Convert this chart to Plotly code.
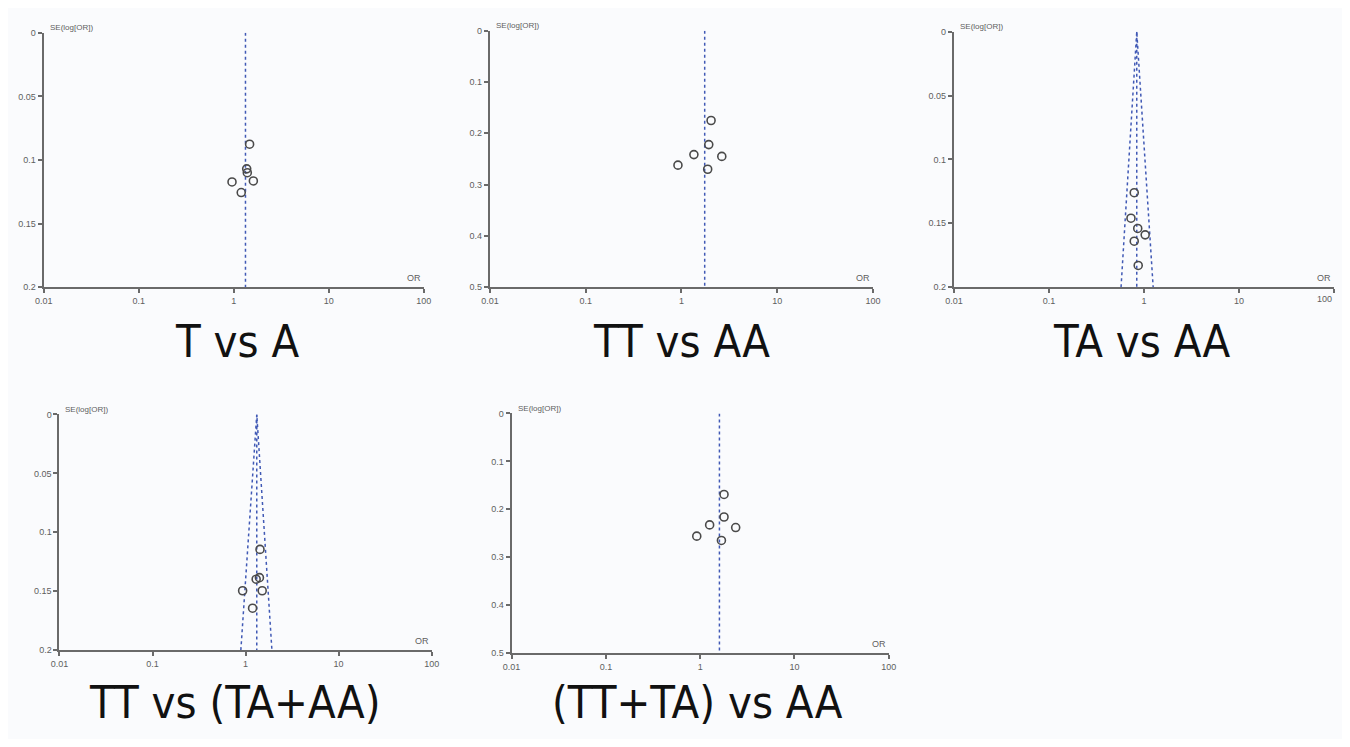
import plotly.graph_objects as go

# ---------------- data ----------------
titles = ["T vs A", "TT vs AA", "TA vs AA", "TT vs (TA+AA)", "(TT+TA) vs AA"]

or_1 = [1.47, 1.37, 1.39, 0.96, 1.61, 1.20]
se_1 = [0.0876, 0.107, 0.110, 0.1173, 0.1165, 0.1256]

or_2 = [2.04, 1.93, 1.35, 2.64, 0.92, 1.88]
se_2 = [0.175, 0.222, 0.2415, 0.245, 0.262, 0.270]

or_3 = [0.79, 0.73, 0.86, 1.03, 0.79, 0.87]
se_3 = [0.126, 0.146, 0.154, 0.159, 0.164, 0.183]

or_4 = [1.43, 1.30, 1.41, 0.93, 1.51, 1.19]
se_4 = [0.1145, 0.1398, 0.1385, 0.1496, 0.1496, 0.1644]

or_5 = [1.79, 1.79, 1.26, 2.38, 0.92, 1.68]
se_5 = [0.169, 0.216, 0.2325, 0.238, 0.256, 0.265]

pooled_or = [1.33, 1.75, 0.84, 1.32, 1.60]
se_max = [0.2, 0.5, 0.2, 0.2, 0.5]
# pseudo-95% CI funnel limits at the bottom of the plot (None = not drawn)
funnel_low = [None, None, 0.574, 0.89, None]
funnel_high = [None, None, 1.25, 1.92, None]

x_tickvals = [0.01, 0.1, 1, 10, 100]
x_ticktext = ["0.01", "0.1", "1", "10", "100"]
y_ticks_02 = [0, 0.05, 0.1, 0.15, 0.2]
y_tick_text_02 = ["0", "0.05", "0.1", "0.15", "0.2"]
y_ticks_05 = [0, 0.1, 0.2, 0.3, 0.4, 0.5]
y_tick_text_05 = ["0", "0.1", "0.2", "0.3", "0.4", "0.5"]

# page is 1350x747; the body keeps its default 8px margin around the figure
PAGE_MARGIN = 8
W, H = 1350 - 2 * PAGE_MARGIN, 747 - 2 * PAGE_MARGIN
# (left, right, top, bottom) of each panel in page pixels
panel_px = [
    (35, 420, 28, 286),
    (487, 875, 26, 286),
    (957, 1342, 27, 286),
    (51, 428, 415, 654),
    (509, 891, 414, 657),
]
label_pos = [(231, 341), (681, 341), (1148, 341), (228, 707), (697, 707)]


def fx(px):
    return min(1.0, max(0.0, (px - PAGE_MARGIN) / W))


def fy(py):
    return min(1.0, max(0.0, 1 - (py - PAGE_MARGIN) / H))


ors = [or_1, or_2, or_3, or_4, or_5]
ses = [se_1, se_2, se_3, se_4, se_5]

AXIS_COL = "#6a6a6a"
TICK_COL = "#5e5e5e"
LINE_COL = "#4059b5"
MARK_COL = "#4a4a4a"

fig = go.Figure()
layout = dict(
    width=W, height=H,
    margin=dict(l=0, r=0, t=0, b=0),
    paper_bgcolor="#fafbfd",
    plot_bgcolor="rgba(0,0,0,0)",
    showlegend=False,
    font=dict(family="Liberation Sans, Arial, sans-serif"),
)
annotations = []

for i in range(5):
    n = i + 1
    xa = "x" if n == 1 else f"x{n}"
    ya = "y" if n == 1 else f"y{n}"
    l, r, t, b = panel_px[i]
    semax = se_max[i]
    p = pooled_or[i]

    if funnel_low[i] is not None:
        fig.add_trace(go.Scatter(
            x=[funnel_low[i], p, funnel_high[i]], y=[semax, 0, semax],
            mode="lines", line=dict(color=LINE_COL, width=1.5, dash="dot"),
            xaxis=xa, yaxis=ya, hoverinfo="skip"))
    fig.add_trace(go.Scatter(
        x=[p, p], y=[0, semax], mode="lines",
        line=dict(color=LINE_COL, width=1.5, dash="dot"),
        xaxis=xa, yaxis=ya, hoverinfo="skip"))
    fig.add_trace(go.Scatter(
        x=ors[i], y=ses[i], mode="markers",
        marker=dict(symbol="circle-open", size=8, color=MARK_COL,
                    line=dict(width=1.6, color=MARK_COL)),
        xaxis=xa, yaxis=ya))

    if semax == 0.2:
        yt, ytt = y_ticks_02, y_tick_text_02
    else:
        yt, ytt = y_ticks_05, y_tick_text_05

    # the right-most panel touches the page edge: draw its last x label as an annotation
    edge = fx(r) >= 0.999
    xtt = list(x_ticktext)
    if edge:
        xtt[-1] = ""
        annotations.append(dict(
            text=x_ticktext[-1], xref=f"{xa} domain", yref=f"{ya} domain",
            x=1, y=0, xanchor="right", yanchor="top", xshift=0, yshift=-5,
            showarrow=False, font=dict(size=9, color=TICK_COL)))

    xkey = "xaxis" if n == 1 else f"xaxis{n}"
    ykey = "yaxis" if n == 1 else f"yaxis{n}"
    layout[xkey] = dict(
        domain=[fx(l), fx(r)], anchor=ya, type="log", range=[-2, 2],
        tickvals=x_tickvals, ticktext=xtt,
        showline=True, linecolor=AXIS_COL, linewidth=2,
        ticks="outside", ticklen=4, tickwidth=1.5, tickcolor=AXIS_COL,
        showgrid=False, zeroline=False,
        tickfont=dict(size=9, color=TICK_COL), fixedrange=True,
    )
    layout[ykey] = dict(
        domain=[fy(b), fy(t)], anchor=xa, range=[semax, 0],
        tickvals=yt, ticktext=ytt,
        showline=True, linecolor=AXIS_COL, linewidth=2,
        ticks="outside", ticklen=4, tickwidth=1.5, tickcolor=AXIS_COL,
        showgrid=False, zeroline=False,
        tickfont=dict(size=9, color=TICK_COL), fixedrange=True,
    )

    annotations.append(dict(
        text="SE(log[OR])", xref=f"{xa} domain", yref=f"{ya} domain",
        x=0, y=1, xanchor="left", yanchor="middle", xshift=4, yshift=5,
        showarrow=False, font=dict(size=8, color=TICK_COL)))
    annotations.append(dict(
        text="OR", xref=f"{xa} domain", yref=f"{ya} domain",
        x=1, y=0, xanchor="right", yanchor="bottom", xshift=-1, yshift=2,
        showarrow=False, font=dict(size=9, color=TICK_COL)))

    lx, ly = label_pos[i]
    annotations.append(dict(
        text=titles[i], xref="paper", yref="paper",
        x=fx(lx), y=fy(ly), xanchor="center", yanchor="middle",
        showarrow=False,
        font=dict(size=45, color="#111111",
                  family="DejaVu Sans Condensed, Liberation Sans, sans-serif")))

layout["annotations"] = annotations
fig.update_layout(**layout)
fig.write_html("out.html", config={"displayModeBar": False})
